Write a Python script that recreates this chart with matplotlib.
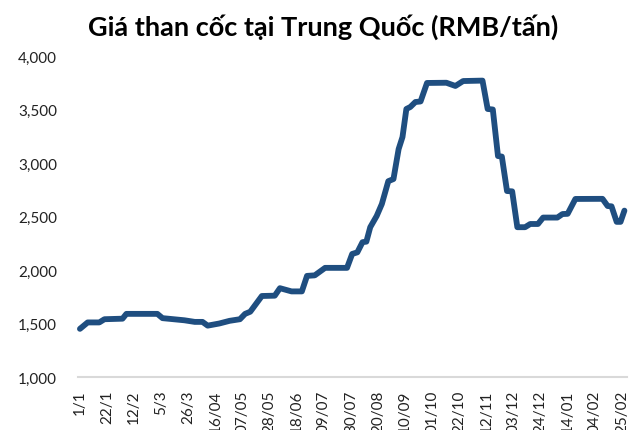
import matplotlib
matplotlib.use("Agg")
import matplotlib.pyplot as plt
import pandas as pd

title = "Giá than cốc tại Trung Quốc (RMB/tấn)"

dates = [
    "2021-01-01", "2021-01-07", "2021-01-16", "2021-01-20", "2021-02-03", "2021-02-06",
    "2021-03-02", "2021-03-06", "2021-03-23", "2021-03-31", "2021-04-06", "2021-04-10",
    "2021-04-19", "2021-04-27", "2021-05-05", "2021-05-09", "2021-05-13", "2021-05-22",
    "2021-06-01", "2021-06-05", "2021-06-14", "2021-06-22", "2021-06-26", "2021-07-02",
    "2021-07-10", "2021-07-27", "2021-07-31", "2021-08-04", "2021-08-08", "2021-08-11",
    "2021-08-14", "2021-08-19", "2021-08-23", "2021-08-28", "2021-09-01", "2021-09-05",
    "2021-09-08", "2021-09-11", "2021-09-14", "2021-09-18", "2021-09-22", "2021-09-27",
    "2021-10-12", "2021-10-19", "2021-10-25", "2021-11-09", "2021-11-13", "2021-11-17",
    "2021-11-21", "2021-11-24", "2021-11-28", "2021-12-02", "2021-12-06", "2021-12-12",
    "2021-12-16", "2021-12-22", "2021-12-26", "2022-01-06", "2022-01-10", "2022-01-14",
    "2022-01-20", "2022-02-10", "2022-02-14", "2022-02-17", "2022-02-21", "2022-02-24",
    "2022-02-27",
]
prices = [
    1450, 1510, 1510, 1540, 1545, 1590,
    1590, 1550, 1530, 1515, 1515, 1480,
    1500, 1525, 1540, 1590, 1610, 1757,
    1760, 1830, 1800, 1800, 1945, 1950,
    2020, 2020, 2150, 2165, 2260, 2265,
    2400, 2505, 2617, 2830, 2850, 3130,
    3243, 3505, 3523, 3570, 3575, 3748,
    3750, 3720, 3766, 3770, 3505, 3500,
    3065, 3060, 2738, 2735, 2400, 2400,
    2430, 2430, 2490, 2490, 2523, 2525,
    2664, 2665, 2598, 2595, 2450, 2450,
    2555,
]

tick_dates = [
    "2021-01-01", "2021-01-22", "2021-02-12", "2021-03-05", "2021-03-26", "2021-04-16",
    "2021-05-07", "2021-05-28", "2021-06-18", "2021-07-09", "2021-07-30", "2021-08-20",
    "2021-09-10", "2021-10-01", "2021-10-22", "2021-11-12", "2021-12-03", "2021-12-24",
    "2022-01-14", "2022-02-04", "2022-02-25",
]
tick_labels = [
    "1/1", "22/1", "12/2", "5/3", "26/3", "16/04", "07/05", "28/05", "18/06", "09/07",
    "30/07", "20/08", "10/09", "01/10", "22/10", "12/11", "03/12", "24/12", "14/01",
    "04/02", "25/02",
]
y_ticks = [1000, 1500, 2000, 2500, 3000, 3500, 4000]

plt.rcParams['font.family'] = ['Lato', 'DejaVu Sans']

fig = plt.figure(figsize=(6.34, 4.31), dpi=100)
ax = fig.add_axes([78 / 634, 1 - 378 / 431, (627 - 78) / 634, (378 - 57) / 431])

x = pd.to_datetime(dates)
ax.plot(x, prices, color="#1F4E80", linewidth=4.2, solid_joinstyle="round",
        solid_capstyle="round", zorder=3, clip_on=False)

t0 = pd.Timestamp("2021-01-01")
ax.set_xlim(t0 - pd.Timedelta(days=1.5), t0 + pd.Timedelta(days=424))
ax.set_ylim(1000, 4000)
ax.set_yticks(y_ticks)
ax.set_yticklabels([f"{v:,}" for v in y_ticks])
ax.set_xticks(pd.to_datetime(tick_dates))
ax.set_xticklabels(tick_labels, rotation=90)

for s in ["top", "right", "left"]:
    ax.spines[s].set_visible(False)
ax.spines["bottom"].set_color("#D9D9D9")
ax.spines["bottom"].set_linewidth(1.5)
ax.tick_params(axis="both", length=0, labelsize=11, colors="#222222")
ax.tick_params(axis="y", pad=15)
ax.tick_params(axis="x", pad=9)

fig.text(323 / 634, 1 - 27 / 431, title, ha="center", va="center",
         fontsize=19.5, fontweight="bold", color="#000000")

fig.savefig("out.png", dpi=100)
